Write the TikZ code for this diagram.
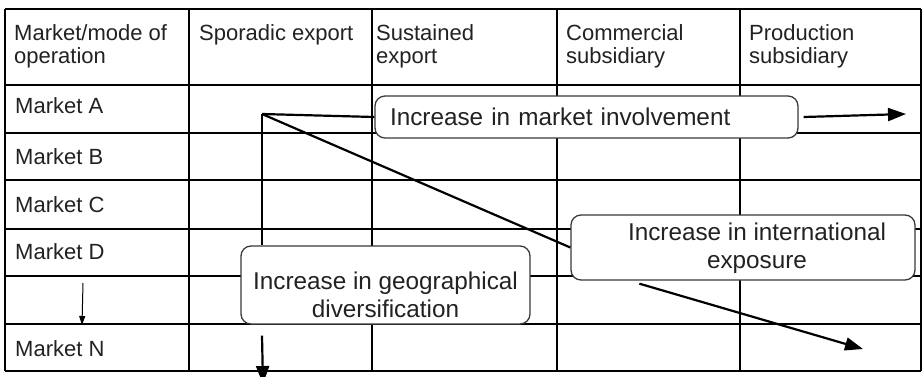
\documentclass[tikz,border=0pt]{standalone}
\usepackage{fontspec}
\setmainfont{Liberation Sans}
\usetikzlibrary{arrows.meta,calc}
\definecolor{txt}{HTML}{222222}
\definecolor{boxline}{HTML}{3a3a3a}
\begin{document}
\begin{tikzpicture}[x=1pt,y=-1pt,
  gridline/.style={line width=1.8pt,black},
  cell/.style={anchor=base west,inner sep=0pt,text=txt,font=\fontsize{22}{23.5}\selectfont,align=left},
  note/.style={draw=boxline,line width=1.3pt,fill=white,rounded corners=10pt,inner sep=0pt},
  notetext/.style={anchor=base,text=txt,font=\fontsize{24.3}{28}\selectfont,align=center,inner sep=0pt},
  conn/.style={line width=2.2pt,black},
  arr/.style={conn,-{Triangle[length=18pt,width=13pt]}},
  thinarr/.style={line width=1pt,black,-{Triangle[length=9pt,width=6pt]}}]

\useasboundingbox (0,0) rectangle (922,376);
\fill[white] (0,0) rectangle (922,376);

% table grid
\foreach \y in {9,85,133,180,229,276,324,371} \draw[gridline] (5,\y) -- (921,\y);
\foreach \x in {5,189,372,557,740,921} \draw[gridline] (\x,9) -- (\x,371);

% header (base anchor = baseline of the last line)
\node[cell] (h1) at (14,63.5) {Market/mode of\\operation};
\node[cell] (h2) at (199,40) {Sporadic export};
\node[cell] (h3) at (376,63.5) {Sustained\\export};
\node[cell] (h4) at (566,63.5) {Commercial\\subsidiary};
\node[cell] (h5) at (749,63.5) {Production\\subsidiary};

% rows
\node[cell] (ra) at (15,113) {Market A};
\node[cell] (rb) at (15,164) {Market B};
\node[cell] (rc) at (15,212) {Market C};
\node[cell] (rd) at (15,259) {Market D};
\node[cell] (rn) at (15,356) {Market N};

% thin arrow in first column
\coordinate (ts) at (83,283);
\coordinate (te) at (82,325);
\draw[thinarr] (ts) -- (te);

% boxes
\node[note,minimum width=423pt,minimum height=42pt,text width=393pt,inner xsep=15pt,align=left,
      text=txt,font=\fontsize{24.3}{28}\selectfont] (inv) at (586.5,117) {Increase in market involvement};
\node[note,minimum width=344pt,minimum height=65pt] (intl) at (743,247.5) {};
\node[note,minimum width=289pt,minimum height=78pt] (geo) at (385.5,285) {};

\node[notetext] (intlt) at (757,268) {Increase in international\\exposure};
\node[notetext] (geot) at (385.5,317) {Increase in geographical\\diversification};

% connectors
\coordinate (P) at (262,114);
\draw[conn] (P) -- (inv.west);
\draw[conn] (P) -- (P |- geo.north);
\draw[conn] (P) -- (intl.west);

\coordinate (invend) at (906,114);
\draw[arr] ([xshift=5pt]inv.east) -- (invend);

\coordinate (iend) at (863,349);
\draw[arr] ([xshift=69pt,yshift=-3pt]intl.south west) -- (iend);

\coordinate (gend) at (263,384);
\draw[arr] ($(P |- geo.south)+(0,11)$) -- (gend);
\end{tikzpicture}
\end{document}
